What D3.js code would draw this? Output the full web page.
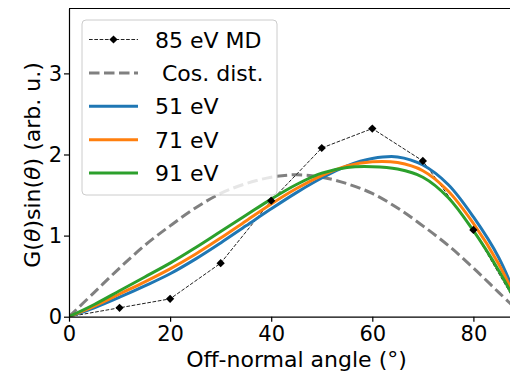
<!DOCTYPE html>
<html>
<head>
<meta charset="utf-8">
<script src="https://cdn.jsdelivr.net/npm/d3@7/dist/d3.min.js"></script>
<style>
  html, body { margin: 0; padding: 0; background: #fff; }
  svg { display: block; }
  text { font-family: "DejaVu Sans", sans-serif; fill: #000; }
</style>
</head>
<body>
<svg id="chart" width="510" height="372"></svg>
<script>
// Angular distributions G(θ)sin(θ) versus off-normal angle (degrees)
const angles = [0, 5, 10, 15, 20, 25, 30, 35, 40, 45, 50, 55, 60, 65, 70, 75, 80, 85, 90];
const cosDist = [0, 0.30, 0.60, 0.88, 1.12, 1.34, 1.52, 1.64, 1.72, 1.75, 1.72, 1.64, 1.52, 1.34, 1.12, 0.88, 0.60, 0.30, 0];
const e51 = [0, 0.11, 0.24, 0.38, 0.53, 0.71, 0.91, 1.12, 1.33, 1.53, 1.71, 1.86, 1.95, 1.97, 1.87, 1.63, 1.23, 0.73, 0];
const e71 = [0, 0.13, 0.28, 0.43, 0.59, 0.77, 0.97, 1.18, 1.39, 1.58, 1.74, 1.86, 1.91, 1.90, 1.80, 1.55, 1.15, 0.65, 0];
const e91 = [0, 0.15, 0.32, 0.49, 0.66, 0.85, 1.05, 1.25, 1.45, 1.63, 1.77, 1.84, 1.85, 1.82, 1.72, 1.47, 1.06, 0.57, 0];

// Molecular dynamics result at 85 eV
const mdAngles = [0, 10, 20, 30, 40, 50, 60, 70, 80, 90];
const md85 = [0, 0.11, 0.22, 0.66, 1.43, 2.08, 2.32, 1.92, 1.07, 0];

const xTicks = [0, 20, 40, 60, 80];
const yTicks = [0, 1, 2, 3];

const seriesNames = ["85 eV MD", " Cos. dist.", "51 eV", "71 eV", "91 eV"];
const colors = { c51: "#1f77b4", c71: "#ff7f0e", c91: "#2ca02c", cos: "#808080", md: "#222" };

const svg = d3.select("#chart");
const plotLeft = 69, plotBottom = 316.7, plotTop = 8.5;
const x = d3.scaleLinear().domain([0, 90]).range([plotLeft, plotLeft + 90 * 5.055]);
const y = d3.scaleLinear().domain([0, 3.8]).range([plotBottom, plotTop]);

svg.append("defs").append("clipPath").attr("id", "plotClip")
  .append("rect")
  .attr("x", x(0)).attr("y", y(3.8))
  .attr("width", x(90) - x(0)).attr("height", y(0) - y(3.8));

const plot = svg.append("g").attr("clip-path", "url(#plotClip)");

const lineOf = (xs, ys, curve) => d3.line()
  .x((d, i) => x(xs[i])).y(d => y(d)).curve(curve)(ys);

// Cosine reference distribution
plot.append("path")
  .attr("d", lineOf(angles, cosDist, d3.curveCatmullRom))
  .attr("fill", "none").attr("stroke", colors.cos)
  .attr("stroke-width", 3).attr("stroke-dasharray", "10.5,4.5");

// MD line
plot.append("path")
  .attr("d", lineOf(mdAngles, md85, d3.curveLinear))
  .attr("fill", "none").attr("stroke", colors.md)
  .attr("stroke-width", 1).attr("stroke-dasharray", "3.7,1.6");

// Energy series
[[e51, colors.c51], [e71, colors.c71], [e91, colors.c91]].forEach(([vals, c]) => {
  plot.append("path")
    .attr("d", lineOf(angles, vals, d3.curveCatmullRom))
    .attr("fill", "none").attr("stroke", c).attr("stroke-width", 3);
});

// MD markers
const diamond = d3.symbol().type(d3.symbolSquare).size(34);
plot.selectAll(".md")
  .data(mdAngles.map((a, i) => [a, md85[i]]).filter(d => d[1] > 0))
  .join("path")
  .attr("d", diamond)
  .attr("transform", d => `translate(${x(d[0])},${y(d[1])}) rotate(45)`)
  .attr("fill", "#000");

// Axes
const fs = 22, tfs = 21;
const xAxis = svg.append("g").attr("transform", `translate(0,${plotBottom})`)
  .call(d3.axisBottom(x).tickValues(xTicks).tickFormat(d3.format("d"))
    .tickSize(5).tickPadding(4).tickSizeOuter(0));
const yAxis = svg.append("g").attr("transform", `translate(${plotLeft},0)`)
  .call(d3.axisLeft(y).tickValues(yTicks).tickFormat(d3.format("d"))
    .tickSize(5).tickPadding(2).tickSizeOuter(0));
[xAxis, yAxis].forEach(g => {
  g.selectAll("text").style("font-size", tfs + "px").attr("fill", "#000");
  g.selectAll("line").attr("stroke", "#000").attr("stroke-width", 1.2);
  g.select(".domain").attr("stroke", "#000").attr("stroke-width", 1.2);
});
// top spine
svg.append("line")
  .attr("x1", plotLeft).attr("x2", x(90)).attr("y1", plotTop).attr("y2", plotTop)
  .attr("stroke", "#000").attr("stroke-width", 1.2);

// Axis titles
svg.append("text")
  .attr("x", (x(0) + x(90)) / 2).attr("y", 367)
  .attr("text-anchor", "middle").style("font-size", fs + "px")
  .text("Off-normal angle (°)");

const yl = svg.append("text")
  .attr("transform", `translate(40,${165}) rotate(-90)`)
  .attr("text-anchor", "middle").style("font-size", fs + "px");
yl.append("tspan").text("G(");
yl.append("tspan").style("font-style", "italic").text("θ");
yl.append("tspan").text(")sin(");
yl.append("tspan").style("font-style", "italic").text("θ");
yl.append("tspan").text(") (arb. u.)");

// Legend
const lg = svg.append("g");
lg.append("rect")
  .attr("x", 82).attr("y", 20).attr("width", 195).attr("height", 175)
  .attr("rx", 4).attr("fill", "#fff").attr("fill-opacity", 0.8)
  .attr("stroke", "#ccc").attr("stroke-width", 1);

const rowY = i => 39.5 + i * 33.4;
const hx0 = 89, hx1 = 138, tx = 155;
const handles = [
  { color: colors.md, w: 1, dash: "3.7,1.6", marker: true },
  { color: colors.cos, w: 3, dash: "10.5,4.5" },
  { color: colors.c51, w: 3 },
  { color: colors.c71, w: 3 },
  { color: colors.c91, w: 3 }
];
handles.forEach((h, i) => {
  lg.append("line")
    .attr("x1", hx0).attr("x2", hx1).attr("y1", rowY(i)).attr("y2", rowY(i))
    .attr("stroke", h.color).attr("stroke-width", h.w)
    .attr("stroke-dasharray", h.dash || null);
  if (h.marker) {
    lg.append("path").attr("d", diamond)
      .attr("transform", `translate(${(hx0 + hx1) / 2},${rowY(i)}) rotate(45)`)
      .attr("fill", "#000");
  }
  lg.append("text")
    .attr("x", tx).attr("y", rowY(i) + 8)
    .style("font-size", fs + "px").style("white-space", "pre")
    .text(seriesNames[i]);
});
</script>
</body>
</html>
